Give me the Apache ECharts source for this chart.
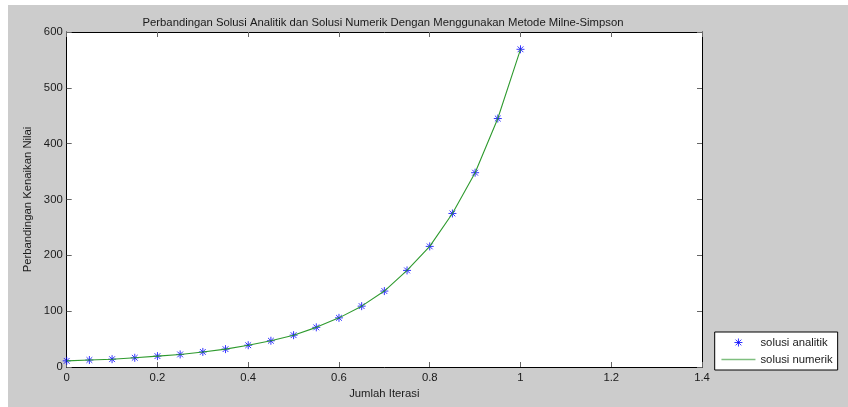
<!DOCTYPE html>
<html>
<head>
<meta charset="utf-8">
<script src="https://cdn.jsdelivr.net/npm/echarts@6/dist/echarts.min.js"></script>
<style>
  html, body { margin: 0; padding: 0; background: #ffffff; width: 848px; height: 407px; overflow: hidden; }
  #chart { position: absolute; left: 8px; top: 5px; width: 840px; height: 402px; }
</style>
</head>
<body>
<div id="chart"></div>
<script>
// Data
var iterasi = [0, 0.05, 0.1, 0.15, 0.2, 0.25, 0.3, 0.35, 0.4, 0.45, 0.5, 0.55, 0.6, 0.65, 0.7, 0.75, 0.8, 0.85, 0.9, 0.95, 1.0];
var solusiAnalitik = [11, 12.5, 14, 16.5, 19.5, 22.5, 27, 32, 39, 47, 57, 71, 88, 109, 136, 173, 216, 275, 348, 445, 569];
var solusiNumerik  = [11, 12.5, 14, 16.5, 19.5, 22.5, 27, 32, 39, 47, 57, 71, 88, 109, 136, 173, 216, 275, 348, 445, 569];
var xTicks = { min: 0, max: 1.4, interval: 0.2 };
var yTicks = { min: 0, max: 600, interval: 100 };

var titleText = 'Perbandingan Solusi Analitik dan Solusi Numerik Dengan Menggunakan Metode Milne-Simpson';
var xName = 'Jumlah Iterasi';
var yName = 'Perbandingan Kenaikan Nilai';
var legendNames = ['solusi analitik', 'solusi numerik'];

function pairs(xs, ys) { return xs.map(function (x, i) { return [x, ys[i]]; }); }

var FONT = 'Arial, "Liberation Sans", sans-serif';
var FS = 11.3;
var TXT = '#1a1a1a';
var asterisk = 'path://M0,-1L0,1M-1,0L1,0M-0.72,-0.72L0.72,0.72M-0.72,0.72L0.72,-0.72';

var chart = echarts.init(document.getElementById('chart'), null, { renderer: 'canvas' });

function mirrorAxis(extra) {
  return Object.assign({
    type: 'value',
    axisLine: { show: true, onZero: false, lineStyle: { color: '#000', width: 1 } },
    axisTick: { show: true, inside: true, length: 5, lineStyle: { color: '#666' } },
    axisLabel: { show: false },
    splitLine: { show: false }
  }, extra);
}

chart.setOption({
  backgroundColor: '#cccccc',
  animation: false,
  title: {
    text: titleText,
    left: 370,
    textAlign: 'center',
    top: 7,
    textStyle: { fontFamily: FONT, fontSize: FS, fontWeight: 'normal', color: TXT }
  },
  grid: {
    left: 58.7, top: 27, right: 146, bottom: 40,
    show: true, backgroundColor: '#ffffff', borderWidth: 0
  },
  legend: {
    orient: 'vertical',
    left: 706.7, top: 327,
    backgroundColor: '#ffffff',
    borderColor: '#000000', borderWidth: 1,
    padding: [5, 5, 5, 6],
    itemWidth: 34, itemHeight: 8, itemGap: 6,
    textStyle: { fontFamily: FONT, fontSize: FS, color: TXT },
    data: [
      { name: legendNames[0], itemStyle: { borderWidth: 1 } },
      { name: legendNames[1], itemStyle: { opacity: 0 }, lineStyle: { color: '#7fbf7f', width: 1.5 } }
    ]
  },
  xAxis: [{
    type: 'value', min: xTicks.min, max: xTicks.max, interval: xTicks.interval,
    position: 'bottom',
    name: xName, nameLocation: 'middle', nameGap: 19,
    nameTextStyle: { fontFamily: FONT, fontSize: FS, color: TXT },
    axisLine: { show: true, onZero: false, lineStyle: { color: '#000', width: 1 } },
    axisTick: { show: true, inside: true, length: 5, lineStyle: { color: '#666' } },
    axisLabel: { fontFamily: FONT, fontSize: FS, color: TXT, margin: 5 },
    splitLine: { show: false }
  }, mirrorAxis({ min: xTicks.min, max: xTicks.max, interval: xTicks.interval, position: 'top' })],
  yAxis: [{
    type: 'value', min: yTicks.min, max: yTicks.max, interval: yTicks.interval,
    position: 'left',
    name: yName, nameLocation: 'middle', nameGap: 25, nameRotate: 90,
    nameTextStyle: { fontFamily: FONT, fontSize: FS, color: TXT },
    axisLine: { show: true, onZero: false, lineStyle: { color: '#000', width: 1 } },
    axisTick: { show: true, inside: true, length: 5, lineStyle: { color: '#666' } },
    axisLabel: { fontFamily: FONT, fontSize: FS, color: TXT, margin: 4 },
    splitLine: { show: false }
  }, mirrorAxis({ min: yTicks.min, max: yTicks.max, interval: yTicks.interval, position: 'right' })],
  series: [{
    name: legendNames[0],
    type: 'scatter',
    data: pairs(iterasi, solusiAnalitik),
    symbol: asterisk,
    symbolSize: 8,
    itemStyle: { color: '#0000ff', borderColor: '#0000ff', borderWidth: 1 },
    z: 2
  }, {
    name: legendNames[1],
    type: 'line',
    data: pairs(iterasi, solusiNumerik),
    symbol: 'none',
    showSymbol: false,
    lineStyle: { color: '#2e9a2e', width: 1.1 },
    itemStyle: { color: '#2e9a2e' },
    z: 3
  }]
});
</script>
</body>
</html>
